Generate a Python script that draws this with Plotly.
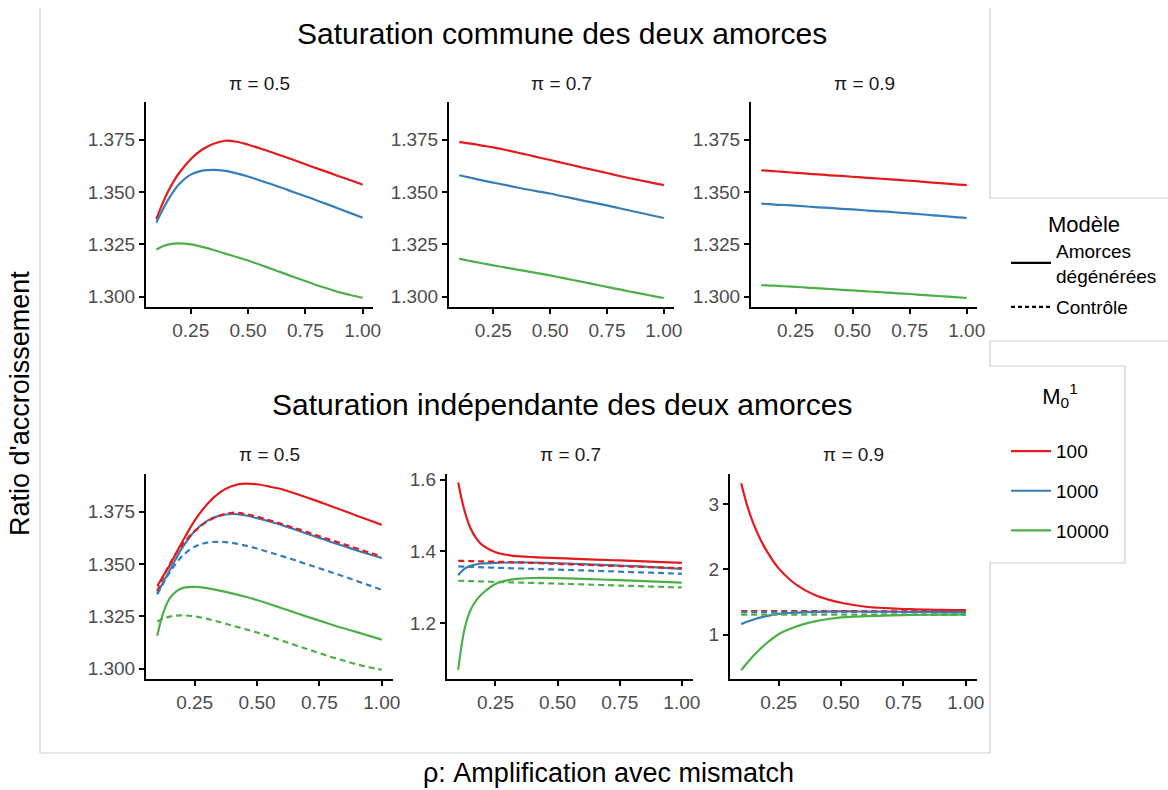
import plotly.graph_objects as go

# ---------------- data ----------------
rho = [0.1, 0.125, 0.15, 0.175, 0.2, 0.25, 0.3, 0.35, 0.4, 0.45, 0.5,
       0.55, 0.6, 0.65, 0.7, 0.75, 0.8, 0.85, 0.9, 0.95, 1.0]
m_labels = ["100", "1000", "10000"]
pi_labels = ["π = 0.5", "π = 0.7", "π = 0.9"]

# Saturation commune (solid, top row) == controle (dashed, bottom row)
common_p05_m100 = [1.3370, 1.3440, 1.3500, 1.3550, 1.3592, 1.3657, 1.3703, 1.3731, 1.3745, 1.3740, 1.3726,
                   1.3709, 1.3691, 1.3672, 1.3653, 1.3633, 1.3613, 1.3594, 1.3574, 1.3555, 1.3535]
common_p05_m1000 = [1.3354, 1.3410, 1.3460, 1.3503, 1.3538, 1.3583, 1.3602, 1.3606, 1.3601, 1.3589, 1.3574,
                    1.3556, 1.3538, 1.3519, 1.3499, 1.3480, 1.3460, 1.3440, 1.3419, 1.3398, 1.3377]
common_p05_m10000 = [1.3225, 1.3240, 1.3249, 1.3254, 1.3255, 1.3250, 1.3238, 1.3223, 1.3206, 1.3190, 1.3173,
                     1.3154, 1.3134, 1.3114, 1.3094, 1.3075, 1.3055, 1.3038, 1.3021, 1.3007, 1.2995]

common_p07_m100 = [1.3738, 1.3735, 1.3731, 1.3727, 1.3722, 1.3713, 1.3702, 1.3690, 1.3678, 1.3665, 1.3653,
                   1.3640, 1.3628, 1.3615, 1.3603, 1.3591, 1.3578, 1.3566, 1.3555, 1.3544, 1.3533]
common_p07_m1000 = [1.3580, 1.3574, 1.3568, 1.3562, 1.3556, 1.3545, 1.3534, 1.3523, 1.3512, 1.3502, 1.3493,
                    1.3481, 1.3470, 1.3458, 1.3447, 1.3436, 1.3424, 1.3412, 1.3400, 1.3388, 1.3376]
common_p07_m10000 = [1.3182, 1.3176, 1.3170, 1.3165, 1.3160, 1.3150, 1.3140, 1.3131, 1.3121, 1.3112, 1.3102,
                     1.3091, 1.3080, 1.3069, 1.3058, 1.3047, 1.3036, 1.3025, 1.3015, 1.3004, 1.2994]

common_p09_m100 = [1.3604, 1.3602, 1.3600, 1.3598, 1.3596, 1.3592, 1.3588, 1.3584, 1.3580, 1.3577, 1.3573,
                   1.3569, 1.3565, 1.3562, 1.3558, 1.3554, 1.3550, 1.3545, 1.3541, 1.3537, 1.3533]
common_p09_m1000 = [1.3445, 1.3443, 1.3441, 1.3439, 1.3438, 1.3435, 1.3431, 1.3427, 1.3424, 1.3420, 1.3417,
                    1.3413, 1.3409, 1.3406, 1.3402, 1.3398, 1.3394, 1.3389, 1.3385, 1.3380, 1.3376]
common_p09_m10000 = [1.3055, 1.3054, 1.3053, 1.3052, 1.3050, 1.3047, 1.3044, 1.3040, 1.3037, 1.3033, 1.3030,
                     1.3027, 1.3023, 1.3020, 1.3016, 1.3013, 1.3009, 1.3005, 1.3002, 1.2998, 1.2994]

# Saturation independante, amorces degenerees (solid, bottom row)
indep_p05_m100 = [1.3395, 1.3445, 1.3494, 1.3550, 1.3605, 1.3707, 1.3786, 1.3841, 1.3873, 1.3884, 1.3881,
                  1.3870, 1.3857, 1.3838, 1.3818, 1.3797, 1.3775, 1.3753, 1.3731, 1.3709, 1.3687]
indep_p05_m1000 = [1.3360, 1.3415, 1.3470, 1.3525, 1.3577, 1.3657, 1.3706, 1.3731, 1.3739, 1.3733, 1.3719,
                   1.3703, 1.3686, 1.3666, 1.3645, 1.3625, 1.3604, 1.3585, 1.3565, 1.3547, 1.3529]
indep_p05_m10000 = [1.3158, 1.3270, 1.3336, 1.3368, 1.3385, 1.3391, 1.3385, 1.3373, 1.3360, 1.3345, 1.3328,
                    1.3309, 1.3289, 1.3269, 1.3249, 1.3230, 1.3210, 1.3192, 1.3175, 1.3157, 1.3139]

indep_p07_m100 = [1.5925, 1.5150, 1.4640, 1.4345, 1.4160, 1.3975, 1.3900, 1.3862, 1.3841, 1.3826, 1.3813,
                  1.3799, 1.3785, 1.3772, 1.3760, 1.3748, 1.3735, 1.3722, 1.3710, 1.3696, 1.3682]
indep_p07_m1000 = [1.3336, 1.3514, 1.3600, 1.3643, 1.3664, 1.3682, 1.3690, 1.3692, 1.3688, 1.3680, 1.3670,
                   1.3659, 1.3648, 1.3634, 1.3620, 1.3605, 1.3590, 1.3573, 1.3555, 1.3535, 1.3514]
indep_p07_m10000 = [1.0692, 1.1813, 1.2374, 1.2654, 1.2841, 1.3093, 1.3196, 1.3240, 1.3258, 1.3260, 1.3255,
                    1.3246, 1.3235, 1.3223, 1.3210, 1.3197, 1.3184, 1.3171, 1.3158, 1.3145, 1.3131]

indep_p09_m100 = [3.317, 2.959, 2.688, 2.473, 2.294, 2.013, 1.824, 1.691, 1.598, 1.535, 1.486,
                  1.452, 1.425, 1.410, 1.399, 1.391, 1.385, 1.381, 1.378, 1.375, 1.373]
indep_p09_m1000 = [1.159, 1.198, 1.230, 1.258, 1.281, 1.317, 1.332, 1.341, 1.348, 1.351, 1.353,
                   1.353, 1.352, 1.351, 1.350, 1.348, 1.347, 1.346, 1.345, 1.344, 1.343]
indep_p09_m10000 = [0.453, 0.570, 0.678, 0.775, 0.862, 1.005, 1.092, 1.159, 1.205, 1.238, 1.261,
                    1.273, 1.281, 1.287, 1.292, 1.297, 1.301, 1.303, 1.305, 1.306, 1.307]

x_ticks = [0.25, 0.50, 0.75, 1.00]
y_ticks_small = [1.300, 1.325, 1.350, 1.375]
y_ticks_p07 = [1.2, 1.4, 1.6]
y_ticks_p09 = [1, 2, 3]

# ---------------- style ----------------
W, H = 1168, 790
colors = ["#E41A1C", "#377EB8", "#4DAF4A"]
FONT = "Liberation Sans, Arial, sans-serif"
LW = 2.2
DASH = "6px,4px"


def fx(px):
    return px / W


def fy(py):
    return 1 - py / H


common = [
    [common_p05_m100, common_p05_m1000, common_p05_m10000],
    [common_p07_m100, common_p07_m1000, common_p07_m10000],
    [common_p09_m100, common_p09_m1000, common_p09_m10000],
]
indep = [
    [indep_p05_m100, indep_p05_m1000, indep_p05_m10000],
    [indep_p07_m100, indep_p07_m1000, indep_p07_m10000],
    [indep_p09_m100, indep_p09_m1000, indep_p09_m10000],
]

# panel geometry in pixels: (x0, x1, ytop, ybottom)
panels = [
    (146, 373, 102, 307), (449, 674, 102, 307), (751, 977, 102, 307),
    (146, 393, 474, 679), (447, 693, 474, 679), (730, 977, 474, 679),
]
yranges = [
    [1.2951, 1.3930], [1.2951, 1.3930], [1.2951, 1.3930],
    [1.2951, 1.3930], [1.044, 1.616], [0.318, 3.460],
]
yticks = [y_ticks_small] * 4 + [y_ticks_p07, y_ticks_p09]
yfmt = [".3f"] * 4 + [".1f", "d"]

fig = go.Figure()

for p in range(6):
    ax = "" if p == 0 else str(p + 1)
    row, col = divmod(p, 3)
    series = common[col] if row == 0 else indep[col]
    for k in range(3):
        fig.add_trace(go.Scatter(
            x=rho, y=series[k], mode="lines",
            line=dict(color=colors[k], width=LW, shape="spline", smoothing=1.0),
            xaxis="x" + ax, yaxis="y" + ax,
            name=m_labels[k], legend="legend2", legendgroup="m" + m_labels[k],
            showlegend=(p == 0), hoverinfo="skip",
        ))
    if row == 1:
        for k in range(3):
            fig.add_trace(go.Scatter(
                x=rho, y=common[col][k], mode="lines",
                line=dict(color=colors[k], width=LW, dash=DASH, shape="spline", smoothing=1.0),
                xaxis="x" + ax, yaxis="y" + ax, showlegend=False, hoverinfo="skip",
            ))

# Model legend entries
fig.add_trace(go.Scatter(x=[None], y=[None], mode="lines",
                         line=dict(color="black", width=LW),
                         name="Amorces<br>dégénérées", legend="legend", legendgroup="solid"))
fig.add_trace(go.Scatter(x=[None], y=[None], mode="lines",
                         line=dict(color="black", width=LW, dash="4px,3px"),
                         name="Contrôle", legend="legend", legendgroup="dash"))

layout = dict(
    autosize=True,
    margin=dict(l=0, r=0, t=0, b=0, autoexpand=False),
    paper_bgcolor="white", plot_bgcolor="white",
    font=dict(family=FONT, color="black"),
    showlegend=True,
)

for p, (x0, x1, yt, yb) in enumerate(panels):
    ax = "" if p == 0 else str(p + 1)
    layout["xaxis" + ax] = dict(
        domain=[fx(x0), fx(x1)], range=[0.055, 1.045],
        tickvals=x_ticks, tickformat=".2f",
        showline=True, linecolor="black", linewidth=2,
        ticks="outside", ticklen=5, tickwidth=2, tickcolor="black",
        showgrid=False, zeroline=False,
        tickfont=dict(size=19, color="#4D4D4D", family=FONT),
        anchor="y" + ax, fixedrange=True,
    )
    layout["yaxis" + ax] = dict(
        domain=[fy(yb), fy(yt)], range=yranges[p],
        tickvals=yticks[p], tickformat=yfmt[p],
        showline=True, linecolor="black", linewidth=2,
        ticks="outside", ticklen=5, tickwidth=2, tickcolor="black",
        showgrid=False, zeroline=False,
        tickfont=dict(size=19, color="#4D4D4D", family=FONT),
        anchor="x" + ax, fixedrange=True,
    )

layout["legend"] = dict(
    x=fx(1006), y=fy(203), xanchor="left", yanchor="top",
    title=dict(text="Modèle", font=dict(size=22, family=FONT), side="top center"),
    font=dict(size=19, family=FONT, color="black"),
    bgcolor="rgba(0,0,0,0)", tracegroupgap=4, itemwidth=40,
)
layout["legend2"] = dict(
    x=fx(1006), y=fy(375), xanchor="left", yanchor="top",
    title=dict(text="M<sub>0</sub><sup>1</sup><br> ", font=dict(size=22, family=FONT), side="top center"),
    font=dict(size=19, family=FONT, color="black"),
    bgcolor="rgba(0,0,0,0)", tracegroupgap=12, itemwidth=40,
)

annotations = [
    dict(text="Saturation commune des deux amorces", x=fx(562), y=fy(33),
         font=dict(size=30, family=FONT, color="black")),
    dict(text="Saturation indépendante des deux amorces", x=fx(562), y=fy(405),
         font=dict(size=30, family=FONT, color="black")),
    dict(text="Ratio d'accroissement", x=fx(20), y=fy(404), textangle=-90,
         font=dict(size=27, family=FONT, color="black")),
    dict(text="ρ: Amplification avec mismatch", x=fx(609), y=fy(773),
         font=dict(size=27, family=FONT, color="black")),
]
for p, (x0, x1, yt, yb) in enumerate(panels):
    annotations.append(dict(text=pi_labels[p % 3], x=fx((x0 + x1) / 2), y=fy(yt - 19),
                            font=dict(size=19, family=FONT, color="#1A1A1A")))
for a in annotations:
    a.update(xref="paper", yref="paper", showarrow=False, xanchor="center", yanchor="middle")
layout["annotations"] = annotations


def pth(points):
    return " ".join(("M" if i == 0 else "L") + f"{fx(a):.5f},{fy(b):.5f}" for i, (a, b) in enumerate(points))


frame_main = pth([(40, 8), (40, 753), (990, 753), (990, 563), (1125, 563), (1125, 366),
                  (990, 366), (990, 341), (1168, 341)])
frame_top = pth([(990, 8), (990, 198), (1168, 198)])
layout["shapes"] = [
    dict(type="path", path=frame_main, xref="paper", yref="paper", line=dict(color="#CFCFCF", width=1.2)),
    dict(type="path", path=frame_top, xref="paper", yref="paper", line=dict(color="#CFCFCF", width=1.2)),
]

fig.update_layout(**layout)
fig.write_html(
    "out.html",
    config={"displayModeBar": False, "responsive": True},
    default_width="100vw",
    default_height="100vh",
    post_script=(
        "document.documentElement.style.margin='0';document.documentElement.style.overflow='hidden';"
        "document.body.style.margin='0';document.body.style.padding='0';document.body.style.overflow='hidden';"
        "var gd=document.getElementById('{plot_id}');Plotly.Plots.resize(gd);"
    ),
)
